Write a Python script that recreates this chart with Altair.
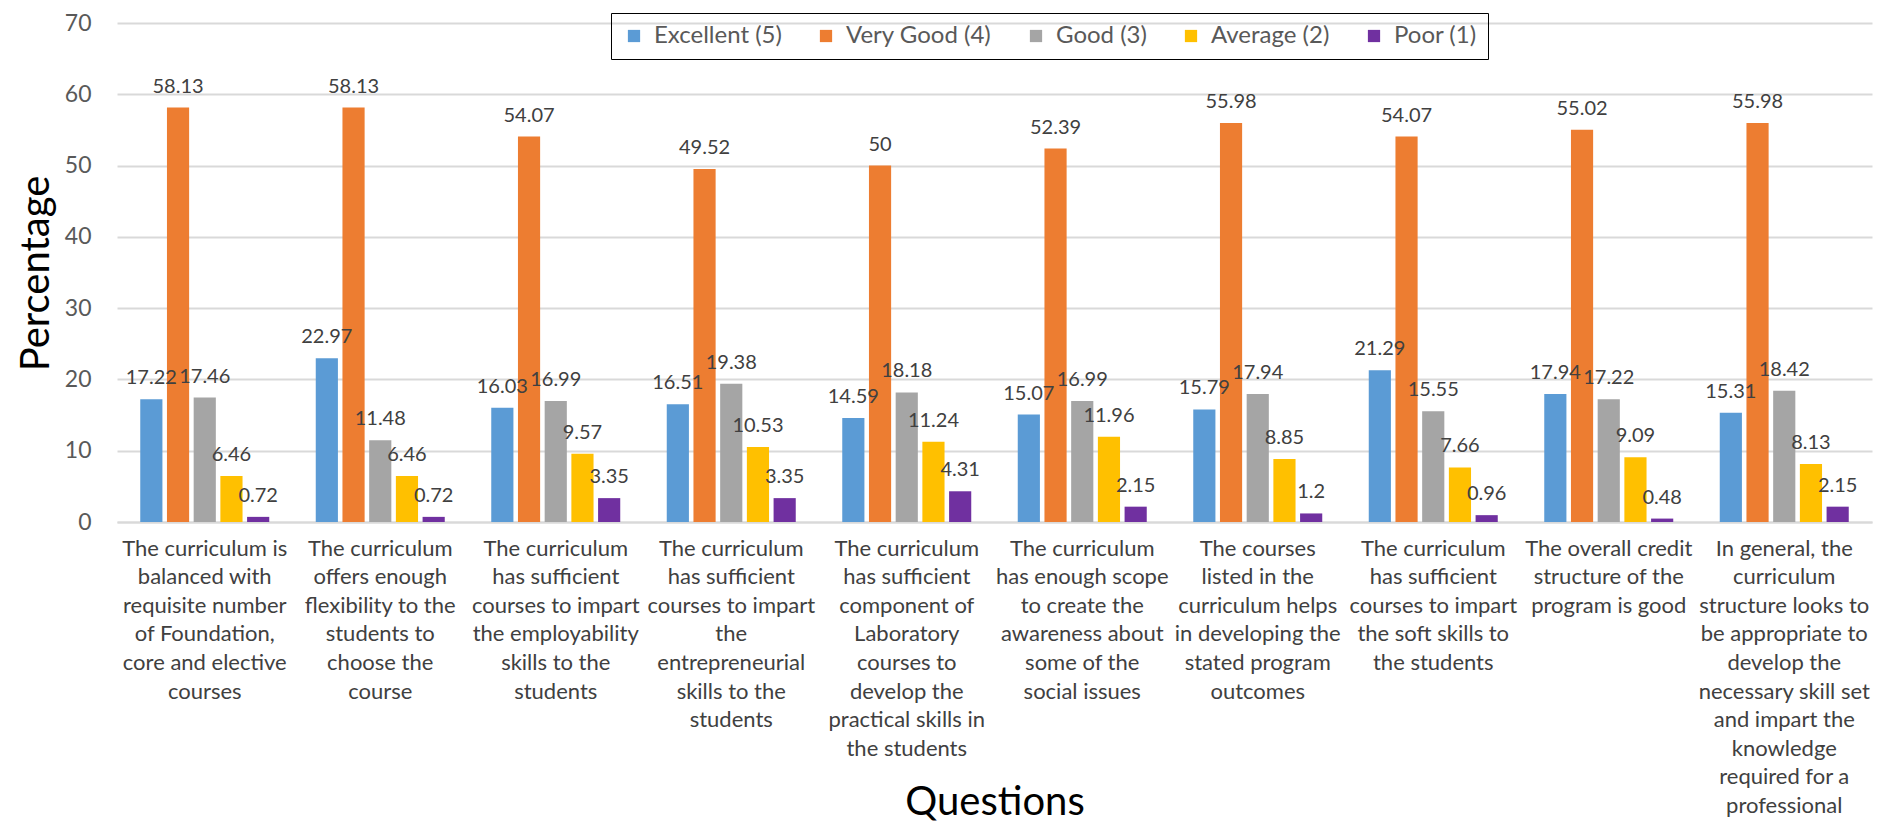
import altair as alt
import pandas as pd

questions = [
    "The curriculum is|balanced with|requisite number|of Foundation,|core and elective|courses",
    "The curriculum|offers enough|flexibility to the|students to|choose the|course",
    "The curriculum|has sufficient|courses to impart|the employability|skills to the|students",
    "The curriculum|has sufficient|courses to impart|the|entrepreneurial|skills to the|students",
    "The curriculum|has sufficient|component of|Laboratory|courses to|develop the|practical skills in|the students",
    "The curriculum|has enough scope|to create the|awareness about|some of the|social issues",
    "The courses|listed in the|curriculum helps|in developing the|stated program|outcomes",
    "The curriculum|has sufficient|courses to impart|the soft skills to|the students",
    "The overall credit|structure of the|program is good",
    "In general, the|curriculum|structure looks to|be appropriate to|develop the|necessary skill set|and impart the|knowledge|required for a|professional",
]

ratings = ["Excellent (5)", "Very Good (4)", "Good (3)", "Average (2)", "Poor (1)"]

excellent = [17.22, 22.97, 16.03, 16.51, 14.59, 15.07, 15.79, 21.29, 17.94, 15.31]
very_good = [58.13, 58.13, 54.07, 49.52, 50, 52.39, 55.98, 54.07, 55.02, 55.98]
good = [17.46, 11.48, 16.99, 19.38, 18.18, 16.99, 17.94, 15.55, 17.22, 18.42]
average = [6.46, 6.46, 9.57, 10.53, 11.24, 11.96, 8.85, 7.66, 9.09, 8.13]
poor = [0.72, 0.72, 3.35, 3.35, 4.31, 2.15, 1.2, 0.96, 0.48, 2.15]

colors = ["#5B9BD5", "#ED7D31", "#A5A5A5", "#FFC000", "#7030A0"]
y_ticks = [0, 10, 20, 30, 40, 50, 60, 70]

series = [excellent, very_good, good, average, poor]
rows = []
for i, q in enumerate(questions):
    for r, vals in zip(ratings, series):
        rows.append({"Question": q, "Rating": r, "Value": vals[i], "Label": f"{vals[i]:g}"})
df = pd.DataFrame(rows)

FONT = "Lato"

base = alt.Chart(df).encode(
    x=alt.X(
        "Question:N",
        sort=questions,
        scale=alt.Scale(paddingInner=0.265, paddingOuter=0.1325),
        axis=alt.Axis(
            title="Questions",
            titleFontSize=40,
            titleFontWeight="normal",
            titleColor="#000000",
            titleFont=FONT,
            titleX=877.5,
            titleY=292,
            titleBaseline="alphabetic",
            labelAngle=0,
            labelExpr="split(datum.label, '|')",
            labelFont=FONT,
            labelFontSize=22,
            labelLineHeight=28.6,
            labelPadding=16,
            labelBaseline="top",
            labelLimit=400,
            labelOverlap=False,
            labelColor="#404040",
            ticks=False,
            tickSize=0,
            domainColor="#D9D9D9",
            domainWidth=2,
        ),
    ),
    xOffset=alt.XOffset(
        "Rating:N", sort=ratings, scale=alt.Scale(paddingInner=0.17, paddingOuter=0)
    ),
)

bars = base.mark_bar().encode(
    y=alt.Y(
        "Value:Q",
        scale=alt.Scale(domain=[0, 70], nice=False),
        axis=alt.Axis(
            values=y_ticks,
            title="Percentage",
            titleFontSize=40,
            titleFontWeight="normal",
            titleColor="#000000",
            titleFont=FONT,
            titleX=-81,
            titleY=250,
            titleAngle=270,
            titleAlign="center",
            titleBaseline="middle",
            labelFont=FONT,
            labelFontSize=23,
            labelColor="#595959",
            labelPadding=26,
            ticks=False,
            tickSize=0,
            domain=False,
            grid=True,
            gridColor="#D9D9D9",
            gridWidth=2,
        ),
    ),
    color=alt.Color(
        "Rating:N",
        sort=ratings,
        scale=alt.Scale(domain=ratings, range=colors),
        legend=alt.Legend(
            title=None,
            orient="none",
            legendX=494,
            legendY=-10,
            direction="horizontal",
            symbolType="square",
            symbolSize=150,
            symbolStrokeWidth=0,
            labelFont=FONT,
            labelFontSize=24,
            labelColor="#595959",
            labelOffset=8,
            columnPadding=32,
            strokeColor="#000000",
            padding=11,
        ),
    ),
)

text = base.mark_text(
    baseline="alphabetic", dy=-15, fontSize=20, font=FONT, color="#404040"
).encode(
    y=alt.Y("Value:Q"),
    text="Label:N",
)

chart = (
    alt.layer(bars, text)
    .properties(
        width=1755,
        height=499,
        autosize=alt.AutoSizeParams(type="none"),
        padding={"left": 109, "top": 15, "right": 5, "bottom": 300},
    )
    .configure_view(stroke=None)
)

chart.save("out.html", embed_options={"renderer": "svg", "actions": False})
